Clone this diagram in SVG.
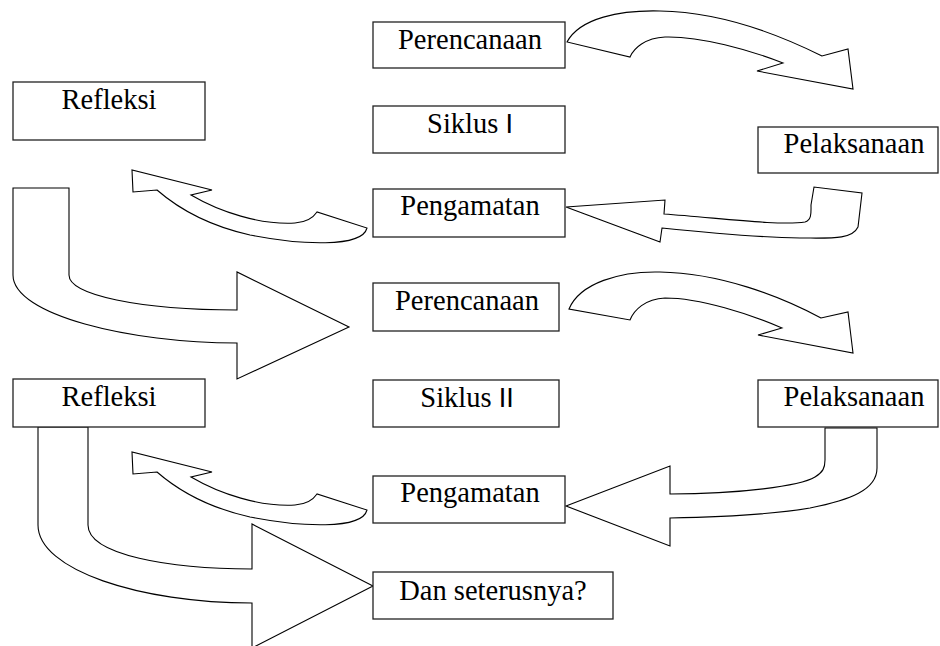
<svg xmlns="http://www.w3.org/2000/svg" width="940" height="646" viewBox="0 0 940 646">
<style>
.box{fill:#fff;stroke:#222;stroke-width:1.3}
.lbl{font-family:"Liberation Serif","Times New Roman",serif;font-size:28.5px;fill:#000;text-anchor:middle}
.sans{font-family:"Liberation Sans",Arial,sans-serif;font-size:27px}
.arr{fill:#fff;stroke:#000;stroke-width:1.1;stroke-linejoin:miter}
</style>
<rect x="0" y="0" width="940" height="646" fill="#fff"/>
<g id="connectors">
  <path id="a1" class="arr" d="M567,42 C580,18 620,10 660,11 C720,12 780,35 822,56 L848,49 L853,89 L757,71 L783,63 C750,50 700,36 665,37 C645,38 634,48 630,57 Z"/>
  <path id="a2" class="arr" d="M566,207 L665,200 L664,214 C720,218 780,226 805,222 C812,220 811,212 811,205 L814,187 L862,193 L858,227 C852,240 830,238 800,238 C750,237 700,232 662,228 L660,242 Z"/>
  <path id="a3" class="arr" d="M367,228 C362,248 300,245 250,235 C210,226 180,210 157,190 L133,192 L132,170 L212,190 L191,195 C220,212 260,225 295,223 C310,222 315,215 317,212 Z"/>
  <path id="a4" class="arr" d="M13,188 L69,188 L69,275 C69,295 140,310 237,310 L237,272 L349,327 L237,379 L237,343 C130,343 13,315 13,275 Z"/>
  <path id="a5" class="arr" d="M569,309 C580,283 620,271 660,272 C720,273 780,296 821,318 L848,312 L853,353 L758,335 L782,328 C750,314 700,298 665,298 C645,299 634,310 630,320 Z"/>
  <path id="a6" class="arr" d="M566,506 L670,466 L670,494 C740,494 800,486 815,477 C823,472 825,468 825,460 L825,428 L877,428 L877,468 C877,490 850,500 810,508 C770,515 720,517 670,518 L670,546 Z"/>
  <path id="a7" class="arr" transform="translate(0,282)" d="M367,228 C362,248 300,245 250,235 C210,226 180,210 157,190 L133,192 L132,170 L212,190 L191,195 C220,212 260,225 295,223 C310,222 315,215 317,212 Z"/>
  <path id="a8" class="arr" d="M38,427 L88,427 L88,525 C88,555 170,569 252,569 L252,524 L373,586 L252,648 L252,603 C140,603 38,570 38,525 Z"/>
</g>
<g id="refleksi1"><rect class="box" x="13" y="82" width="192" height="58"/><text class="lbl" x="109" y="109">Refleksi</text></g>
<g id="perencanaan1"><rect class="box" x="373" y="22" width="192" height="46"/><text class="lbl" x="470" y="49">Perencanaan</text></g>
<g id="siklus1"><rect class="box" x="373" y="106" width="192" height="47"/><text class="lbl" x="470" y="133">Siklus <tspan class="sans">I</tspan></text></g>
<g id="pelaksanaan1"><rect class="box" x="758" y="127" width="180" height="46"/><text class="lbl" x="854" y="153">Pelaksanaan</text></g>
<g id="pengamatan1"><rect class="box" x="373" y="189" width="192" height="48"/><text class="lbl" x="470" y="215">Pengamatan</text></g>
<g id="perencanaan2"><rect class="box" x="373" y="283" width="186" height="48"/><text class="lbl" x="467" y="310">Perencanaan</text></g>
<g id="refleksi2"><rect class="box" x="13" y="379" width="192" height="48"/><text class="lbl" x="109" y="406">Refleksi</text></g>
<g id="siklus2"><rect class="box" x="373" y="380" width="186" height="47"/><text class="lbl" x="467" y="407">Siklus <tspan class="sans">II</tspan></text></g>
<g id="pelaksanaan2"><rect class="box" x="758" y="380" width="180" height="47"/><text class="lbl" x="854" y="406">Pelaksanaan</text></g>
<g id="pengamatan2"><rect class="box" x="373" y="476" width="192" height="47"/><text class="lbl" x="470" y="502">Pengamatan</text></g>
<g id="dan"><rect class="box" x="373" y="572" width="240" height="47"/><text class="lbl" x="493" y="600">Dan seterusnya?</text></g>
</svg>
